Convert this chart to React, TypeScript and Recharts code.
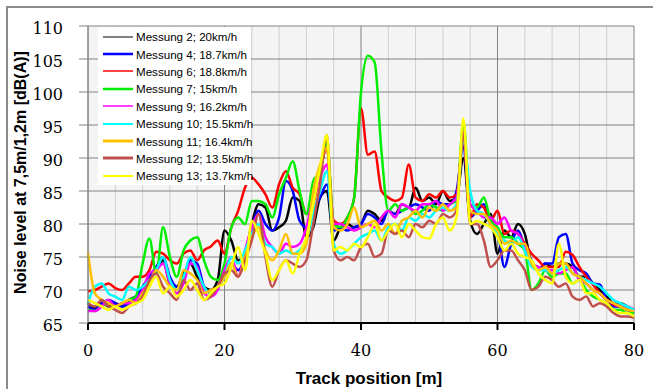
import React from "react";
import { LineChart, Line, XAxis, YAxis, CartesianGrid, Legend } from "recharts";

// track position [m]
const position = [
  0, 1, 2, 3, 4, 5, 6, 7, 8, 9, 10, 11, 12, 13, 14, 15, 16, 17, 18, 19, 20,
  21, 22, 23, 24, 25, 26, 27, 28, 29, 30, 31, 32, 33, 34, 35, 36, 37, 38, 39, 40,
  41, 42, 43, 44, 45, 46, 47, 48, 49, 50, 51, 52, 53, 54, 55, 56, 57, 58, 59, 60,
  61, 62, 63, 64, 65, 66, 67, 68, 69, 70, 71, 72, 73, 74, 75, 76, 77, 78, 79, 80,
];

const messung2 = [
  68, 67.2, 68.5, 67.5, 68, 67.5, 68.5, 69, 70, 72, 73, 74.5, 71, 70.5, 72.5, 74, 72, 70.5, 70, 71.5, 79,
  77.5, 74.5, 75.5, 80, 83, 82.5, 79, 79.5, 80.5, 84, 83.5, 78, 79.5, 84, 85, 77.5, 79.5, 80, 79.5, 80,
  82, 81.5, 80.5, 82, 81.5, 83, 82.5, 85.5, 83.5, 84, 83, 85, 83.5, 84, 90, 80.5, 78.5, 80, 81.5, 75.5,
  79, 78, 80, 78.5, 74, 73, 74, 73.5, 74, 74, 73.5, 72, 72, 71, 70, 69, 68, 68, 67.5, 67,
];
const messung4 = [
  67.5, 67, 68, 68.5, 68, 67.5, 68, 69, 70.5, 72, 73.5, 75, 72, 70.5, 71.5, 74.5, 74, 70.5, 69.5, 70.5, 72,
  74, 73, 75, 79.5, 82, 80, 79, 81, 86.5, 85, 80.5, 79.5, 82, 84, 86, 79, 79.5, 79, 79.5, 80,
  81.5, 81, 80, 82, 81.5, 82, 82.5, 83, 82.5, 82, 83.5, 83, 83, 85, 92, 81, 82, 83, 80, 79,
  73.5, 77, 79, 76.5, 74.5, 73, 74, 74, 78, 78.5, 74, 73, 72.5, 71, 70.8, 68.5, 67.5, 67.5, 67, 66.5,
];
const messung6 = [
  69.8, 70, 70.5, 71, 70.3, 70, 71, 72, 72, 73, 75.8, 75.5, 74.5, 74, 75.5, 76, 74.5, 76, 76.6, 77.5, 75.5,
  79.5, 82, 85.5, 87, 86, 84.5, 82.5, 86, 88, 85.5, 84.5, 81.5, 83, 88, 91.5, 80.5, 80, 81, 84, 97.5,
  90.5, 91, 85, 84, 83.5, 84, 89, 84, 83.5, 84.5, 84, 85, 84, 84.5, 93, 81, 83, 82.5, 80.5, 82,
  78.5, 79, 78.5, 77, 75.5, 74.5, 73.5, 73.5, 73.5, 75.8, 75.3, 73.5, 72, 70.8, 69.5, 68.5, 67.8, 67.5, 67, 66.8,
];
const messung7 = [
  67, 66.8, 67.5, 68, 67.5, 68, 68.5, 69, 74, 77.8, 72.5, 79.5, 75, 72, 76, 77.5, 78, 74.5, 72, 71.5, 74,
  79.5, 81, 80, 83.5, 83.5, 83, 81, 84.5, 87, 89.5, 85, 81.5, 86.5, 88, 92.5, 80, 79.5, 81, 84, 100,
  105.5, 104.5, 91, 82, 83, 82, 82.5, 81.5, 82, 83, 82.5, 82, 83, 83.5, 95.5, 83, 82.5, 84, 80.5, 79.5,
  78, 78, 77, 76, 70, 71, 73, 72, 72.5, 72.5, 71, 71.5, 70, 69, 68.5, 68, 67, 67, 66.5, 66.5,
];
const messung9 = [
  66.8, 66.8, 67.5, 68.5, 67.5, 68, 68, 68.5, 70, 72.5, 73, 74, 71, 69.5, 71, 74, 73.5, 69.5, 69, 70, 73,
  75, 72, 76, 79.5, 81.5, 78, 76.5, 75.5, 77, 76.5, 77, 79.5, 84, 87, 89, 80, 80, 79.5, 79, 79.5,
  80, 79.5, 81, 82, 81, 83, 82.5, 82, 83, 83, 83.5, 82, 83, 84, 93, 83, 82, 81, 81, 80,
  81, 79, 78.5, 76.5, 74, 73.5, 73, 73, 72.5, 73, 73.5, 71.5, 71, 70, 69.5, 68.5, 68, 67.5, 67.5, 67,
];
const messung10 = [
  68, 70.5, 71, 69.5, 69, 68.5, 70.5, 70, 70.5, 71.5, 73, 75, 71.5, 70, 72, 75, 73, 70.5, 69.5, 70.5, 72,
  75, 74, 76, 78.5, 80, 77, 76.5, 75.5, 76, 75.5, 76, 77.5, 81.5, 85, 88, 77, 75.5, 76, 77, 78,
  78.5, 79, 77.5, 79.5, 80, 79, 81, 80.5, 81.5, 81, 82, 82.5, 82, 83, 92.5, 85, 82, 81.5, 80, 78.5,
  77.5, 77, 78, 76, 73.5, 73, 73, 72.5, 73, 73.5, 72.5, 72, 71.5, 71, 70.5, 69.5, 68.5, 68, 67.5, 67,
];
const messung11 = [
  75.7, 69.5, 68.5, 68, 67.5, 68, 68.5, 68, 69.5, 71, 73, 72, 70.5, 70, 73, 72.5, 71.5, 69.5, 70, 70.5, 72,
  74, 72, 75, 78, 79.5, 76, 74.5, 76, 78.5, 75.5, 75.5, 77, 85, 89, 91.5, 79.5, 79, 80, 82.5, 79.5,
  80, 80.5, 79, 80, 78.5, 80.5, 81, 82, 81, 82.5, 82, 83, 82, 82.5, 94, 82, 81.5, 81.5, 80, 79,
  77, 77.5, 77, 77, 74, 73, 73.5, 72.5, 74, 74, 72.5, 72, 71, 70, 69.5, 68.5, 68, 67.5, 67, 66.8,
];
const messung12 = [
  68, 67.5, 68.5, 67.5, 67, 66.5, 67.5, 68, 69, 71.5, 72.5, 70.5, 69.5, 68.5, 71.5, 70, 71, 68.5, 69, 70.5, 72.5,
  73, 72, 74.5, 77.5, 81.5, 75, 70.5, 73, 74.5, 74, 73.5, 74.5, 80, 86, 93.5, 76, 74.5, 75, 74.5, 76.5,
  77, 75, 75.5, 79, 78.5, 79, 78, 80, 79.5, 80.5, 80, 81.5, 81, 82, 94, 80, 80, 77.5, 73.5, 74.5,
  76, 76, 74.5, 73, 70, 70.5, 72, 71.5, 70.5, 71, 69, 68.5, 69, 67.5, 68, 67.5, 66.5, 66, 66, 65.8,
];
const messung13 = [
  68.5, 68, 67.5, 67, 67.5, 67, 67.5, 68, 68.5, 70.5, 72, 69.5, 70.5, 69, 70, 71.5, 70, 68.5, 69.5, 70.5, 71,
  73.5, 76.5, 73, 80.5, 78.5, 75.5, 71.5, 73, 74.5, 72.5, 75.5, 78, 83, 88.5, 93.5, 76, 76.5, 76, 77, 76.5,
  78, 80, 77.5, 79, 80, 78, 80, 79, 78, 77.8, 80, 81, 79, 81, 96, 80, 80.5, 80, 79.5, 78,
  76, 77, 75.5, 75, 74.5, 72.5, 71.5, 71, 77, 72, 71, 71.5, 69.5, 69.5, 68.5, 68, 67, 66.5, 66.5, 66,
];

const seriesNames = [
  "Messung 2; 20km/h",
  "Messung 4; 18.7km/h",
  "Messung 6; 18.8km/h",
  "Messung 7; 15km/h",
  "Messung 9; 16.2km/h",
  "Messung 10; 15.5km/h",
  "Messung 11; 16.4km/h",
  "Messung 12; 13.5km/h",
  "Messung 13; 13.7km/h",
];
const seriesValues = [messung2, messung4, messung6, messung7, messung9, messung10, messung11, messung12, messung13];
const seriesColors = ["#000000", "#0000ff", "#ff0000", "#00ee00", "#ff00ff", "#00ffff", "#ffc000", "#c0504d", "#ffff00"];
const legendStroke = [1, 2.5, 1.5, 2.5, 1.5, 2, 3, 3, 2];

const yTicks = [65, 70, 75, 80, 85, 90, 95, 100, 105, 110];
const xTicks = [0, 20, 40, 60, 80];
const xMinor = [4, 8, 12, 16, 24, 28, 32, 36, 44, 48, 52, 56, 64, 68, 72, 76];

const data = position.map((p, i) => {
  const row: Record<string, number> = { x: p };
  seriesValues.forEach((vals, s) => {
    row["s" + s] = vals[i];
  });
  return row;
});

const tickFont = "'DejaVu Serif', 'Liberation Serif', serif";

const XTick = (props: any) => (
  <text
    x={props.x}
    y={props.y}
    dy={10}
    textAnchor="middle"
    style={{ fontFamily: tickFont, fontSize: 16 }}
    fill="#000"
  >
    {props.payload.value}
  </text>
);

const YTick = (props: any) => (
  <text
    x={props.x}
    y={props.y}
    dy={8}
    textAnchor="end"
    style={{ fontFamily: tickFont, fontSize: 16 }}
    fill="#000"
  >
    {props.payload.value}
  </text>
);

const LegendBox = () => (
  <div
    style={{
      background: "#fff",
      width: 153,
      height: 158,
      boxSizing: "border-box",
      paddingTop: 1,
      fontFamily: "Liberation Sans, Arial, sans-serif",
      fontSize: 11.6,
      color: "#000",
      textAlign: "left",
    }}
  >
    {seriesNames.map((n, i) => (
      <div key={n} style={{ display: "flex", alignItems: "center", height: 17.4 }}>
        <svg width={34} height={6} style={{ marginLeft: 4, flex: "none" }}>
          <line x1={1} x2={31} y1={3} y2={3} stroke={seriesColors[i]} strokeWidth={legendStroke[i]} />
        </svg>
        <span style={{ whiteSpace: "nowrap" }}>{n}</span>
      </div>
    ))}
  </div>
);

const YTitle = (props: any) => {
  const vb = props.viewBox || { x: 8, y: 26, height: 297 };
  const cx = 20;
  const cy = vb.y + vb.height / 2 - 2;
  return (
    <text
      x={cx}
      y={cy}
      transform={`rotate(-90 ${cx} ${cy})`}
      textAnchor="middle"
      dominantBaseline="central"
      fontFamily="Liberation Sans, Arial, sans-serif"
      fontWeight="bold"
      fontSize={16}
      fill="#000"
    >
      Noise level at 7,5m/1,2m [dB(A)]
    </text>
  );
};

const XTitle = (props: any) => {
  const vb = props.viewBox || { x: 88, width: 546 };
  return (
    <text
      x={vb.x + vb.width / 2 + 8}
      y={384}
      textAnchor="middle"
      fontFamily="Liberation Sans, Arial, sans-serif"
      fontWeight="bold"
      fontSize={17}
      fill="#000"
    >
      Track position [m]
    </text>
  );
};

const App = () => {
  return (
    <div
      style={{
        position: "absolute",
        left: 0,
        top: 0,
        width: 653,
        height: 389,
        overflow: "hidden",
        background: "#fff",
      }}
    >
      <div
        style={{
          position: "absolute",
          left: 6,
          top: 6,
          width: 700,
          height: 450,
          borderLeft: "2px solid #8c8c8c",
          borderTop: "2px solid #8c8c8c",
        }}
      />
      <div style={{ position: "absolute", left: 0, top: 0 }}>
        <LineChart width={653} height={389} data={data} margin={{ top: 26, right: 19, left: 8, bottom: 26 }}>
          <CartesianGrid
            fill="#f4f4f4"
            horizontal={false}
            verticalValues={xMinor}
            stroke="#cfcfcf"
          />
          <CartesianGrid verticalValues={xTicks} horizontalValues={yTicks} stroke="#828282" />
          <XAxis
            dataKey="x"
            type="number"
            domain={[0, 80]}
            ticks={xTicks}
            height={40}
            interval={0}
            axisLine={{ stroke: "#000", strokeWidth: 2 }}
            tickLine={{ stroke: "#000", strokeWidth: 2 }}
            tickSize={7}
            tickMargin={16}
            tick={XTick}
            label={{ content: XTitle }}
          />
          <YAxis
            type="number"
            domain={[65, 110]}
            ticks={yTicks}
            width={80}
            interval={0}
            allowDataOverflow
            axisLine={{ stroke: "#808080" }}
            tickLine={{ stroke: "#808080" }}
            tickSize={9}
            tickMargin={16}
            tick={YTick}
            label={{ content: YTitle }}
          />
          <Legend
            content={LegendBox}
            layout="horizontal"
            align="center"
            verticalAlign="middle"
            wrapperStyle={{ left: 98, top: 27, width: 153, height: 158 }}
          />
          {seriesValues.map((_, s) => (
            <Line
              key={s}
              dataKey={"s" + s}
              name={seriesNames[s]}
              stroke={seriesColors[s]}
              strokeWidth={2.5}
              dot={false}
              type="monotone"
              isAnimationActive={false}
            />
          ))}
        </LineChart>
      </div>
    </div>
  );
};

export default App;
